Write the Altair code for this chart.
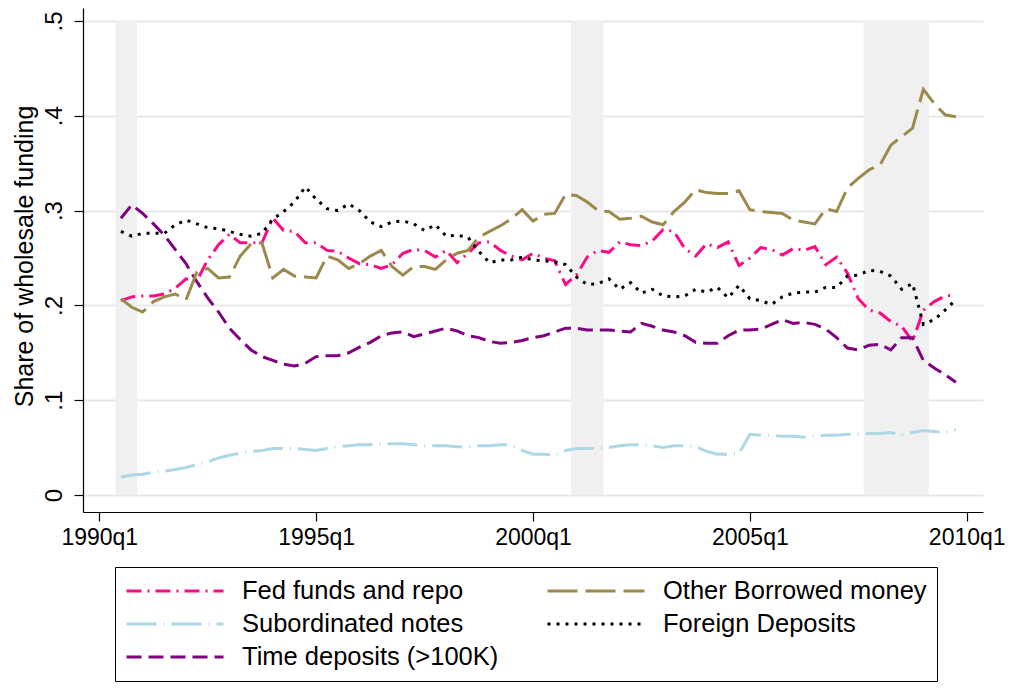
import altair as alt
import pandas as pd

# ---------------- data ----------------
# order = Stata plotting order (legend fills column by column)
series_names = ["Fed funds and repo", "Subordinated notes", "Time deposits (>100K)",
                "Other Borrowed money", "Foreign Deposits"]

# quarters 1990q3 .. 2009q4
quarters = [f"{y}q{q}" for y in range(1990, 2010) for q in range(1, 5)][2:]

fed_funds = [
    .205, .209, .210, .210, .212, .218, .228, .226, .248, .264,
    .275, .266, .266, .266, .292, .279, .278, .266, .266, .258,
    .257, .250, .244, .243, .239, .243, .255, .259, .258, .251,
    .258, .245, .255, .266, .267, .258, .252, .248, .255, .250,
    .247, .222, .232, .251, .258, .256, .267, .264, .263, .268,
    .280, .278, .260, .252, .265, .261, .267, .242, .250, .261,
    .259, .253, .260, .258, .262, .243, .251, .234, .207, .195,
    .192, .183, .178, .162, .195, .204, .210, .211]

sub_notes = [
    .019, .021, .022, .024, .025, .027, .029, .032, .035, .039,
    .042, .044, .046, .047, .049, .049, .049, .048, .047, .049,
    .051, .052, .053, .053, .054, .054, .054, .053, .052, .052,
    .052, .051, .051, .052, .052, .053, .053, .047, .043, .043,
    .042, .047, .049, .049, .049, .050, .052, .053, .053, .052,
    .050, .052, .052, .051, .046, .043, .043, .044, .064, .063,
    .063, .062, .062, .061, .062, .063, .063, .064, .064, .065,
    .065, .066, .063, .066, .068, .067, .066, .069]

time_dep = [
    .292, .306, .297, .286, .274, .259, .244, .225, .208, .193,
    .176, .164, .153, .146, .142, .138, .136, .139, .146, .147,
    .147, .150, .156, .161, .168, .171, .172, .167, .170, .173,
    .176, .173, .168, .166, .162, .160, .161, .163, .166, .168,
    .172, .176, .176, .174, .174, .174, .173, .172, .181, .178,
    .174, .172, .168, .161, .160, .160, .168, .174, .174, .175,
    .180, .185, .181, .182, .180, .175, .166, .155, .153, .158,
    .159, .153, .166, .166, .142, .134, .127, .119]

other_borrowed = [
    .207, .198, .193, .204, .209, .212, .206, .235, .239, .229,
    .230, .252, .265, .266, .229, .238, .231, .230, .229, .252,
    .248, .239, .244, .252, .258, .241, .232, .241, .241, .238,
    .248, .255, .258, .272, .278, .284, .291, .301, .289, .296,
    .297, .317, .316, .309, .300, .299, .291, .292, .294, .288,
    .285, .299, .309, .322, .319, .318, .318, .321, .301, .299,
    .298, .297, .290, .288, .286, .302, .299, .324, .334, .343,
    .348, .369, .378, .387, .428, .413, .401, .399]

foreign_dep = [
    .278, .273, .276, .276, .276, .285, .290, .286, .282, .281,
    .278, .275, .273, .276, .291, .299, .309, .325, .312, .302,
    .300, .307, .300, .288, .283, .288, .289, .286, .279, .285,
    .273, .274, .272, .257, .245, .248, .248, .251, .248, .247,
    .246, .243, .230, .222, .223, .228, .217, .224, .213, .217,
    .210, .209, .210, .217, .214, .219, .208, .221, .207, .205,
    .201, .209, .213, .214, .214, .219, .219, .231, .232, .237,
    .236, .231, .217, .223, .180, .185, .195, .206]

recession_quarters = ["1990q3", "1990q4", "2001q1", "2001q2", "2001q3",
                      "2007q4", "2008q1", "2008q2", "2008q3", "2008q4", "2009q1"]

colors = ["#FF0A85", "#ADD8E6", "#800080", "#9C8A4D", "#000000"]
dashes = [[15, 6, 2, 6], [30, 7, 1, 7], [15, 7], [30, 8], [3, 6]]

x_ticks = [1990, 1995, 2000, 2005, 2010]
y_ticks = [0, 0.1, 0.2, 0.3, 0.4, 0.5]


def qtime(label):
    y, q = label.split("q")
    return int(y) + (int(q) - 1) / 4.0


values = [fed_funds, sub_notes, time_dep, other_borrowed, foreign_dep]
rows = []
for name, vals in zip(series_names, values):
    for ql, v in zip(quarters, vals):
        rows.append({"series": name, "quarter": ql, "t": qtime(ql), "v": v})
df = pd.DataFrame(rows)

rec = pd.DataFrame({"quarter": recession_quarters})
rec["t0"] = [qtime(q) - 0.125 for q in recession_quarters]
rec["t1"] = [qtime(q) + 0.125 for q in recession_quarters]

FONT = "Liberation Sans"

x_scale = alt.Scale(domain=[1989.625, 2010.375], nice=False, zero=False)
y_scale = alt.Scale(domain=[-0.01793, 0.5137], nice=False, zero=False)

x_axis = alt.Axis(values=x_ticks, labelExpr="format(datum.value, 'd') + 'q1'",
                  grid=False, tickSize=9, tickColor="black", tickWidth=1.2,
                  domainColor="black", domainWidth=1.2,
                  labelFontSize=23, labelFont=FONT, labelColor="black",
                  labelPadding=5, labelFlush=False, labelOverlap=False, title=None)

y_axis = alt.Axis(values=y_ticks,
                  labelExpr="datum.value == 0 ? '0' : '.' + format(datum.value * 10, 'd')",
                  grid=True, gridColor="#E8E8E8", gridWidth=1.8,
                  tickSize=9, tickColor="black", tickWidth=1.2,
                  domainColor="black", domainWidth=1.2,
                  labelFontSize=24, labelFont=FONT, labelColor="black",
                  labelAngle=270, labelAlign="center", labelBaseline="bottom",
                  labelPadding=8, labelFlush=False, labelOverlap=False,
                  title="Share of wholesale funding", titleFontSize=25, titleFont=FONT,
                  titleFontWeight="normal", titleColor="black", titleAngle=270,
                  titleX=-51, titleY=248, titleAlign="center", titleBaseline="alphabetic")

leg = alt.Legend(title=None, orient="none", legendX=32, legendY=559, columns=2,
                 symbolType="stroke", symbolSize=9409, symbolStrokeWidth=3,
                 clipHeight=28, rowPadding=5, columnPadding=47, labelOffset=17,
                 labelFontSize=25.5, labelFont=FONT, labelColor="black", labelLimit=0,
                 padding=10, strokeColor="black", fillColor="white")

shade = alt.Chart(rec).mark_rect(color="#F0F0F0").encode(
    x=alt.X("t0:Q", scale=x_scale, axis=x_axis, title=None),
    x2="t1:Q",
    y=alt.Y(datum=0, scale=y_scale, axis=y_axis, title="Share of wholesale funding"),
    y2=alt.Y2(datum=0.5),
)

lines = alt.Chart(df).mark_line(strokeWidth=3).encode(
    x=alt.X("t:Q", scale=x_scale, axis=x_axis, title=None),
    y=alt.Y("v:Q", scale=y_scale, axis=y_axis, title="Share of wholesale funding"),
    color=alt.Color("series:N", scale=alt.Scale(domain=series_names, range=colors), legend=leg),
    strokeDash=alt.StrokeDash("series:N", scale=alt.Scale(domain=series_names, range=dashes), legend=leg),
    detail="series:N",
)

chart = alt.layer(shade, lines).properties(
    width=900, height=504,
    autosize=alt.AutoSizeParams(type="none"),
    padding={"left": 75, "top": 0, "right": 22, "bottom": 170},
    background="white",
).configure_view(stroke=None)

chart.save("out.html", embed_options={"renderer": "svg", "actions": False})
